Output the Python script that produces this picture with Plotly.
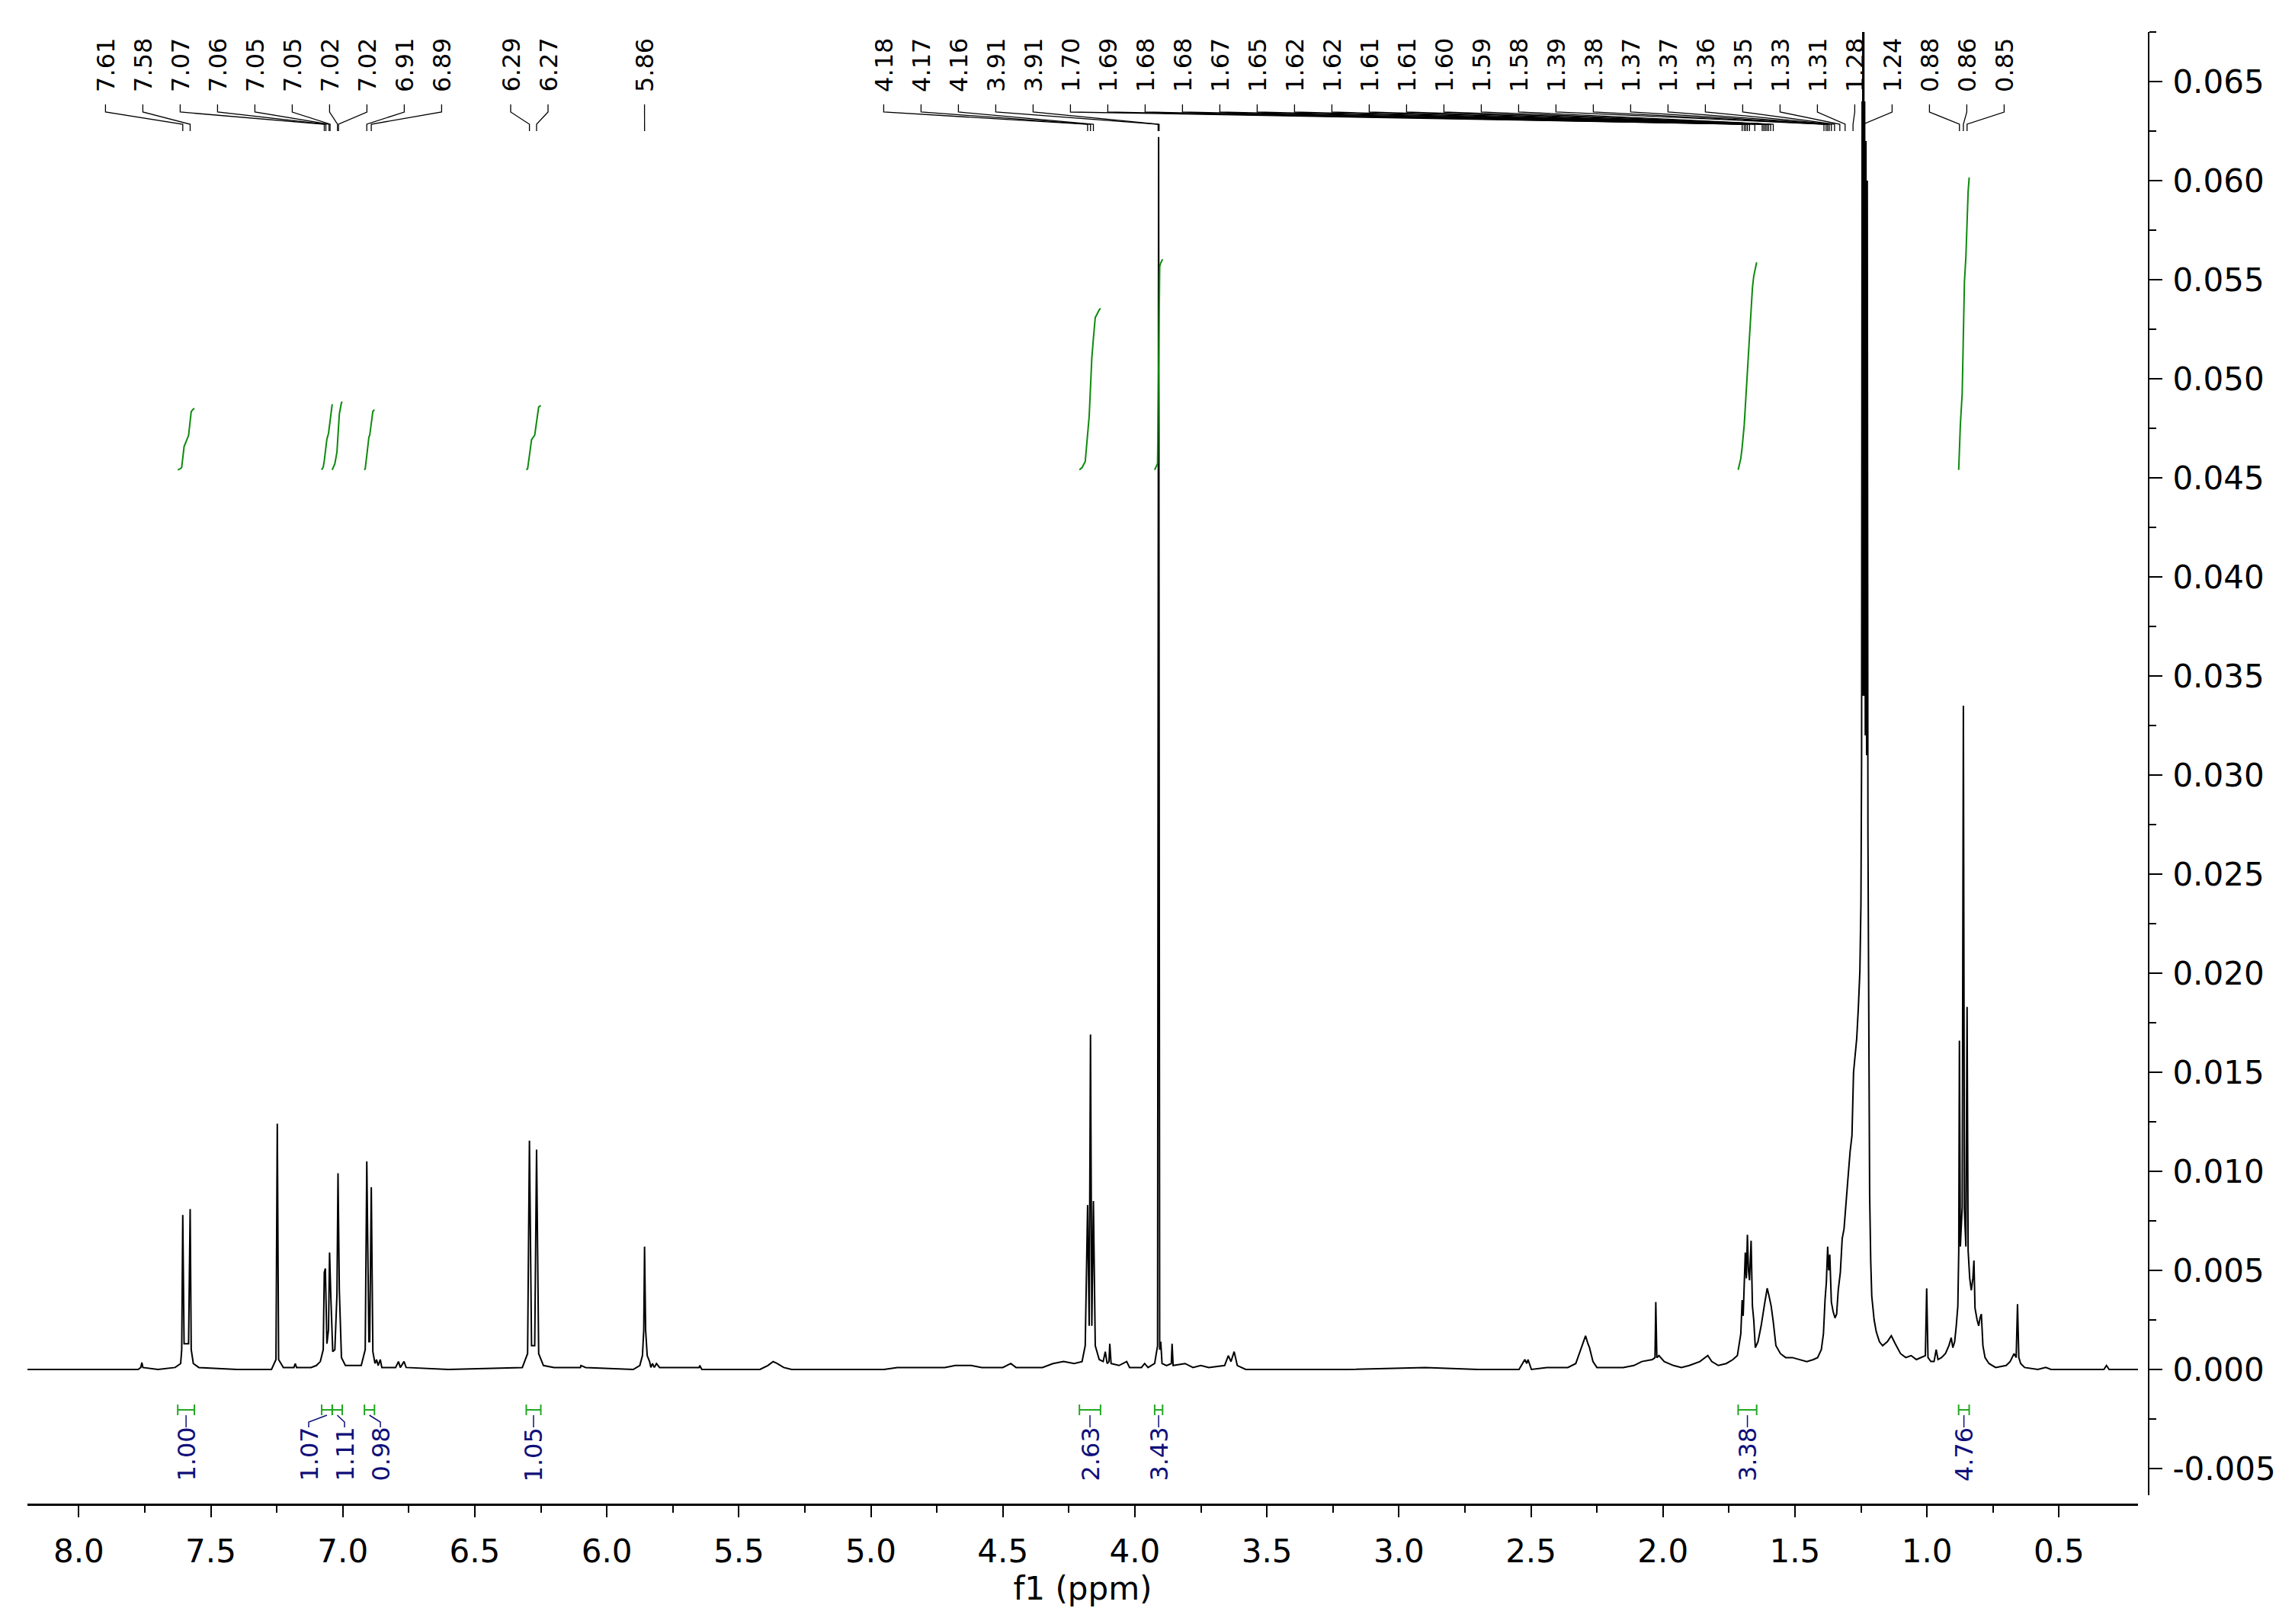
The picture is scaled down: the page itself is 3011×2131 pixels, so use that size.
import numpy as np
import plotly.graph_objects as go

# ---------------- data ----------------
shift_ppm = [8.194, 7.90, 7.775, 7.765, 7.761, 7.757, 7.70, 7.635, 7.614, 7.610, 7.606, 7.601, 7.584, 7.578,
             7.574, 7.566, 7.545, 7.40, 7.27, 7.253, 7.248, 7.243, 7.225, 7.185, 7.180, 7.175, 7.12, 7.10,
             7.085, 7.074, 7.070, 7.066, 7.060, 7.054, 7.050, 7.045, 7.038, 7.030, 7.022, 7.018, 7.013, 7.005,
             6.990, 6.930, 6.915, 6.909, 6.901, 6.898, 6.892, 6.886, 6.878, 6.872, 6.866, 6.858, 6.852, 6.80,
             6.789, 6.782, 6.768, 6.760, 6.60, 6.32, 6.300, 6.293, 6.285, 6.273, 6.266, 6.258, 6.240, 6.20,
             6.10, 6.098, 6.08, 5.90, 5.875, 5.865, 5.860, 5.857, 5.853, 5.847, 5.838, 5.833, 5.827, 5.820,
             5.812, 5.800, 5.65, 5.648, 5.64, 5.42, 5.39, 5.37, 5.355, 5.33, 5.30, 4.95, 4.90, 4.72, 4.68,
             4.62, 4.58, 4.50, 4.47, 4.45, 4.35, 4.31, 4.27, 4.23, 4.200, 4.188, 4.179, 4.173, 4.168, 4.163,
             4.157, 4.150, 4.135, 4.120, 4.112, 4.105, 4.098, 4.095, 4.090, 4.060, 4.031, 4.020, 3.975, 3.963,
             3.950, 3.925, 3.914, 3.910, 3.906, 3.902, 3.897, 3.880, 3.862, 3.859, 3.855, 3.810, 3.780, 3.750,
             3.720, 3.660, 3.646, 3.636, 3.624, 3.612, 3.58, 3.20, 2.90, 2.70, 2.545, 2.523, 2.516, 2.511,
             2.498, 2.44, 2.36, 2.330, 2.310, 2.293, 2.284, 2.278, 2.265, 2.250, 2.190, 2.150, 2.110, 2.080,
             2.040, 2.030, 2.027, 2.023, 2.015, 1.995, 1.960, 1.930, 1.900, 1.860, 1.830, 1.815, 1.790, 1.760,
             1.735, 1.718, 1.705, 1.700, 1.696, 1.692, 1.688, 1.684, 1.680, 1.676, 1.672, 1.666, 1.661, 1.656,
             1.650, 1.640, 1.628, 1.615, 1.605, 1.598, 1.590, 1.582, 1.572, 1.555, 1.535, 1.510, 1.480, 1.455,
             1.430, 1.414, 1.400, 1.392, 1.386, 1.381, 1.376, 1.372, 1.368, 1.362, 1.355, 1.348, 1.342, 1.336,
             1.328, 1.321, 1.314, 1.308, 1.300, 1.291, 1.284, 1.278, 1.273, 1.266, 1.260, 1.254, 1.250, 1.2475,
             1.2455, 1.2435, 1.2410, 1.2385, 1.2360, 1.2335, 1.2310, 1.2285, 1.2260, 1.2235,
             1.2205, 1.2185, 1.2170, 1.2130, 1.2090, 1.2000, 1.1920, 1.1800,
             1.1680, 1.1500, 1.1350, 1.1200, 1.1000, 1.0800, 1.0600, 1.0400, 1.0200, 1.0060, 1.0010, 0.9960,
             0.9850, 0.9730, 0.9650, 0.9580, 0.9450, 0.9300, 0.9170, 0.9080, 0.9020, 0.8950, 0.8890, 0.8830,
             0.8795, 0.8770, 0.8735, 0.8665, 0.8620, 0.8580, 0.8525, 0.8480, 0.8440, 0.8380, 0.8320, 0.8260,
             0.8220, 0.8180, 0.8100, 0.8040, 0.7990, 0.7940, 0.7880, 0.7800, 0.7650, 0.7400, 0.7000, 0.6850,
             0.6700, 0.6620, 0.6570, 0.6520, 0.6450, 0.6300, 0.5800, 0.5500, 0.5300, 0.3300, 0.3200, 0.3100,
             0.2007]
intensity = [0.0, 0.0, 0.0, 0.0001, 0.00035, 0.0001, 0.0, 0.0001, 0.0003, 0.0010, 0.0078, 0.0013, 0.0013, 0.0081,
             0.0010, 0.0003, 0.0001, 0.0, 0.0, 0.0005, 0.0124, 0.0005, 0.0001, 0.0001, 0.0003, 0.0001, 0.0001, 0.0002,
             0.0004, 0.0010, 0.0049, 0.0051, 0.0013, 0.0020, 0.0059, 0.0036, 0.0009, 0.0010, 0.0038, 0.0099, 0.0040, 0.0006,
             0.0002, 0.0002, 0.0010, 0.0105, 0.0014, 0.0014, 0.0092, 0.0009, 0.0003, 0.0005, 0.0002, 0.0005, 0.0001, 0.0001,
             0.0004, 0.0001, 0.0004, 0.0001, 0.0, 0.0001, 0.0008, 0.01155, 0.0012, 0.0012, 0.0111, 0.0008, 0.0002, 0.0001,
             0.0001, 0.0002, 0.0001, 0.0, 0.0002, 0.0007, 0.0020, 0.0062, 0.0020, 0.0007, 0.0004, 0.0001, 0.0003, 0.0001,
             0.0003, 0.0001, 0.0001, 0.0002, 0.0, 0.0, 0.0002, 0.0004, 0.0003, 0.0001, 0.0, 0.0, 0.0001, 0.0001, 0.0002,
             0.0002, 0.0001, 0.0001, 0.0003, 0.0001, 0.0001, 0.0003, 0.0004, 0.0003, 0.0004, 0.0012, 0.0083, 0.0022, 0.0169, 0.0022,
             0.0085, 0.0012, 0.0005, 0.0004, 0.0009, 0.0003, 0.0004, 0.0013, 0.0003, 0.0002, 0.0004, 0.0001, 0.0001, 0.0003,
             0.0001, 0.0003, 0.0012, 0.0622, 0.0010, 0.0014, 0.0003, 0.0002, 0.0003, 0.0013, 0.0002, 0.0003, 0.0001, 0.0002,
             0.0001, 0.0002, 0.0007, 0.0004, 0.0009, 0.0002, 0.0, 0.0, 0.0001, 0.0, 0.0, 0.0005, 0.0003, 0.0005,
             0.0, 0.0001, 0.0001, 0.0003, 0.0011, 0.0017, 0.0013, 0.0011, 0.0004, 0.0001, 0.0001, 0.0001, 0.0002, 0.0004,
             0.0005, 0.0006, 0.0034, 0.0006, 0.0007, 0.0004, 0.0002, 0.0001, 0.0002, 0.0004, 0.0007, 0.0004, 0.0002, 0.0003,
             0.0005, 0.0007, 0.0018, 0.0035, 0.0027, 0.0048, 0.0059, 0.0046, 0.0068, 0.0050, 0.0045, 0.0065, 0.0032, 0.0025,
             0.0011, 0.0014, 0.0022, 0.0033, 0.0041, 0.0037, 0.0032, 0.0024, 0.0012, 0.0008, 0.0006, 0.0006, 0.0005, 0.0004,
             0.0005, 0.0006, 0.0010, 0.0018, 0.0035, 0.0044, 0.0062, 0.0050, 0.0058, 0.0034, 0.0029, 0.0026, 0.0028, 0.0040,
             0.0049, 0.0066, 0.0071, 0.0083, 0.0095, 0.0110, 0.0118, 0.0150, 0.0158, 0.0167, 0.0182, 0.0201, 0.0235, 0.031,
             0.064, 0.034, 0.150, 0.034, 0.064, 0.032, 0.062, 0.031, 0.060, 0.027,
             0.018, 0.011, 0.0088, 0.0055, 0.0037, 0.0025, 0.0019, 0.0014,
             0.0012, 0.0014, 0.0017, 0.0013, 0.0008, 0.0006, 0.0007, 0.0005, 0.0006, 0.0007, 0.0041, 0.0006,
             0.0004, 0.0004, 0.0010, 0.0005, 0.0006, 0.0008, 0.0012, 0.0016, 0.0011, 0.0014, 0.0022, 0.0032,
             0.0060, 0.0166, 0.0062, 0.0082, 0.0335, 0.0080, 0.0062, 0.0183, 0.0060, 0.0046, 0.0040, 0.0046,
             0.0055, 0.0031, 0.0025, 0.0022, 0.0026, 0.0028, 0.0012, 0.0006, 0.0003, 0.0001, 0.0002, 0.0004,
             0.0008, 0.0006, 0.0033, 0.0006, 0.0003, 0.0001, 0.0, 0.0001, 0.0, 0.0, 0.0002, 0.0,
             0.0]

peak_label_text = ["7.61", "7.58", "7.07", "7.06", "7.05", "7.05", "7.02", "7.02", "6.91", "6.89",
                   "6.29", "6.27",
                   "5.86",
                   "4.18", "4.17", "4.16", "3.91", "3.91", "1.70", "1.69", "1.68", "1.68", "1.67", "1.65",
                   "1.62", "1.62", "1.61", "1.61", "1.60", "1.59", "1.58", "1.39", "1.38", "1.37", "1.37",
                   "1.36", "1.35", "1.33", "1.31", "1.28", "1.24", "0.88", "0.86", "0.85"]
peak_label_ppm = [7.606, 7.578, 7.070, 7.064, 7.052, 7.048, 7.020, 7.016, 6.909, 6.892,
                  6.293, 6.266,
                  5.857,
                  4.179, 4.168, 4.157, 3.912, 3.908, 1.700, 1.692, 1.686, 1.680, 1.672, 1.652,
                  1.624, 1.618, 1.612, 1.606, 1.600, 1.592, 1.582, 1.390, 1.382, 1.376, 1.370,
                  1.362, 1.350, 1.330, 1.310, 1.280, 1.241, 0.877, 0.862, 0.848]
peak_label_group = [0] * 10 + [1] * 2 + [2] + [3] * 31

integral_value = [1.00, 1.07, 1.11, 0.98, 1.05, 2.63, 3.43, 3.38, 4.76]
integral_label = ["1.00", "1.07", "1.11", "0.98", "1.05", "2.63", "3.43", "3.38", "4.76"]
integral_from_ppm = [7.625, 7.080, 7.040, 6.918, 6.305, 4.210, 3.925, 1.715, 0.880]
integral_to_ppm = [7.562, 7.040, 7.002, 6.880, 6.250, 4.130, 3.895, 1.645, 0.840]

y_tick_values = [-0.005, 0.000, 0.005, 0.010, 0.015, 0.020, 0.025, 0.030, 0.035, 0.040, 0.045, 0.050, 0.055, 0.060, 0.065]
y_tick_labels = ["-0.005", "0.000", "0.005", "0.010", "0.015", "0.020", "0.025", "0.030", "0.035", "0.040",
                 "0.045", "0.050", "0.055", "0.060", "0.065"]
x_tick_values = [8.0, 7.5, 7.0, 6.5, 6.0, 5.5, 5.0, 4.5, 4.0, 3.5, 3.0, 2.5, 2.0, 1.5, 1.0, 0.5]
x_tick_labels = ["8.0", "7.5", "7.0", "6.5", "6.0", "5.5", "5.0", "4.5", "4.0", "3.5", "3.0", "2.5", "2.0", "1.5", "1.0", "0.5"]

# ---------------- layout constants (pixels) ----------------
W, H = 3011, 2131
M_L, M_R, M_T, M_B = 36, 192, 42, 157
X_LEFT_PPM, X_RIGHT_PPM = 8.1943, 0.2007
X_DOMAIN_END = (2805 - 36) / (W - M_L - M_R)
Y_RANGE = [-0.006346, 0.0675]
Y_DOMAIN_START = 12 / (H - M_T - M_B)
PIX_BOTTOM, PIX_TOP = 1962, 42
PX_PER_PPM = (2805 - 36) / (X_LEFT_PPM - X_RIGHT_PPM)

FONT = "DejaVu Sans"
LABEL_FONT = 32
LABEL_SPACING = 49
LABEL_GROUP_CENTER_PX = [358.9, 694.5, 845.6, 1894.4]
LABEL_TEXT_BOTTOM = 122
CONN_Y = [137, 147, 163, 172]
INT_BASE = 0.0454
INT_PER_H = 0.0031
BR_Y, BR_TOP, BR_BOT = 1850, 1843, 1857
INT_LABEL_TOP, INT_LABEL_BOTTOM = 1873, 1945
INT_MIN_GAP = 47
GREEN_CURVE = "#0d8a0d"
GREEN_BRACKET = "#22a822"
NAVY = "#10107a"


def px_to_ppm(px):
    return X_LEFT_PPM - (px - M_L) / PX_PER_PPM


def ppm_to_px(p):
    return M_L + (X_LEFT_PPM - p) * PX_PER_PPM


fig = go.Figure()

# spectrum
fig.add_trace(go.Scatter(x=shift_ppm, y=intensity, mode="lines",
                         line=dict(color="black", width=2), hoverinfo="skip", showlegend=False))

# integral curves (cumulative area of the spectrum inside each range)
xs_all = np.array(shift_ppm)
ys_all = np.array(intensity)
for val, p0, p1 in zip(integral_value, integral_from_ppm, integral_to_ppm):
    m = (xs_all < p0) & (xs_all > p1)
    xs = np.concatenate([[p0], xs_all[m], [p1]])
    ys = np.concatenate([[np.interp(p0, xs_all[::-1], ys_all[::-1])], ys_all[m],
                         [np.interp(p1, xs_all[::-1], ys_all[::-1])]])
    area = np.concatenate([[0.0], np.cumsum(0.5 * (ys[1:] + ys[:-1]) * np.abs(np.diff(xs)))])
    frac = area / area[-1]
    fig.add_trace(go.Scatter(x=xs, y=INT_BASE + val * INT_PER_H * frac, mode="lines",
                             line=dict(color=GREEN_CURVE, width=2), hoverinfo="skip", showlegend=False))

# peak labels + connectors
conn_x, conn_y = [], []
annotations = []
group_members = {}
for i, g in enumerate(peak_label_group):
    group_members.setdefault(g, []).append(i)
for g, idxs in group_members.items():
    n = len(idxs)
    start = LABEL_GROUP_CENTER_PX[g] - (n - 1) * LABEL_SPACING / 2
    for k, i in enumerate(idxs):
        lx = start + k * LABEL_SPACING
        lp = px_to_ppm(lx)
        pp = peak_label_ppm[i]
        annotations.append(dict(x=lp, y=LABEL_TEXT_BOTTOM, xref="x", yref="y2", text=peak_label_text[i],
                                textangle=-90, showarrow=False, xanchor="center", yanchor="bottom",
                                font=dict(family=FONT, size=LABEL_FONT, color="black"), borderpad=0))
        conn_x += [lp, lp, pp, pp, None]
        conn_y += [CONN_Y[0], CONN_Y[1], CONN_Y[2], CONN_Y[3], None]
fig.add_trace(go.Scatter(x=conn_x, y=conn_y, yaxis="y2", mode="lines",
                         line=dict(color="black", width=1.3), hoverinfo="skip", showlegend=False))

# integration brackets and labels
centers = [ppm_to_px((a + b) / 2) for a, b in zip(integral_from_ppm, integral_to_ppm)]
label_px = list(centers)
clusters, cur = [], [0]
for i in range(1, len(centers)):
    if centers[i] - centers[i - 1] < INT_MIN_GAP:
        cur.append(i)
    else:
        clusters.append(cur)
        cur = [i]
clusters.append(cur)
for cl in clusters:
    if len(cl) > 1:
        mean = np.mean([centers[i] for i in cl])
        for k, i in enumerate(cl):
            label_px[i] = mean + (k - (len(cl) - 1) / 2) * INT_MIN_GAP

br_x, br_y, nc_x, nc_y = [], [], [], []
for i, (p0, p1) in enumerate(zip(integral_from_ppm, integral_to_ppm)):
    br_x += [p0, p0, None, p0, p1, None, p1, p1, None]
    br_y += [BR_TOP, BR_BOT, None, BR_Y, BR_Y, None, BR_TOP, BR_BOT, None]
    bc = px_to_ppm(centers[i])
    lc = px_to_ppm(label_px[i])
    if abs(centers[i] - label_px[i]) < 1:
        nc_x += [bc, bc, None]
        nc_y += [BR_BOT, INT_LABEL_TOP, None]
    else:
        nc_x += [bc, lc, lc, None]
        nc_y += [BR_BOT, 1866, INT_LABEL_TOP, None]
    annotations.append(dict(x=lc, y=INT_LABEL_BOTTOM, xref="x", yref="y2", text=integral_label[i],
                            textangle=-90, showarrow=False, xanchor="center", yanchor="bottom",
                            font=dict(family=FONT, size=LABEL_FONT, color=NAVY), borderpad=0))
fig.add_trace(go.Scatter(x=br_x, y=br_y, yaxis="y2", mode="lines",
                         line=dict(color=GREEN_BRACKET, width=2), hoverinfo="skip", showlegend=False))
fig.add_trace(go.Scatter(x=nc_x, y=nc_y, yaxis="y2", mode="lines",
                         line=dict(color=NAVY, width=1.5), hoverinfo="skip", showlegend=False))

x_minor = [v + 0.25 for v in x_tick_values]
y_minor = [round(v + 0.0025, 4) for v in y_tick_values]

fig.update_layout(
    width=W, height=H,
    margin=dict(l=M_L, r=M_R, t=M_T, b=M_B, pad=0),
    paper_bgcolor="white", plot_bgcolor="white",
    showlegend=False,
    annotations=annotations,
    xaxis=dict(range=[X_LEFT_PPM, X_RIGHT_PPM], domain=[0, X_DOMAIN_END], anchor="free", position=0,
               showline=True, linecolor="black", linewidth=3, showgrid=False, zeroline=False,
               ticks="outside", ticklen=15, tickwidth=2, tickcolor="black",
               tickmode="array", tickvals=x_tick_values, ticktext=x_tick_labels,
               tickfont=dict(family=FONT, size=42, color="black"), ticklabelstandoff=9,
               minor=dict(ticks="outside", ticklen=9, tickwidth=2, tickcolor="black", tickvals=x_minor),
               title=dict(text="f1 (ppm)", font=dict(family=FONT, size=42, color="black"), standoff=2)),
    yaxis=dict(range=Y_RANGE, domain=[Y_DOMAIN_START, 1], side="right", anchor="free", position=1,
               showline=True, linecolor="black", linewidth=2, showgrid=False, zeroline=False,
               ticks="outside", ticklen=17, tickwidth=2, tickcolor="black",
               tickmode="array", tickvals=y_tick_values, ticktext=y_tick_labels,
               tickfont=dict(family=FONT, size=42, color="black"), ticklabelstandoff=5,
               minor=dict(ticks="outside", ticklen=9, tickwidth=2, tickcolor="black", tickvals=y_minor)),
    yaxis2=dict(overlaying="y", range=[PIX_BOTTOM, PIX_TOP], visible=False, anchor="x"),
)

fig.write_html("out.html", config={"displayModeBar": False},
               post_script="document.body.style.margin='0';document.body.style.overflow='hidden';")
